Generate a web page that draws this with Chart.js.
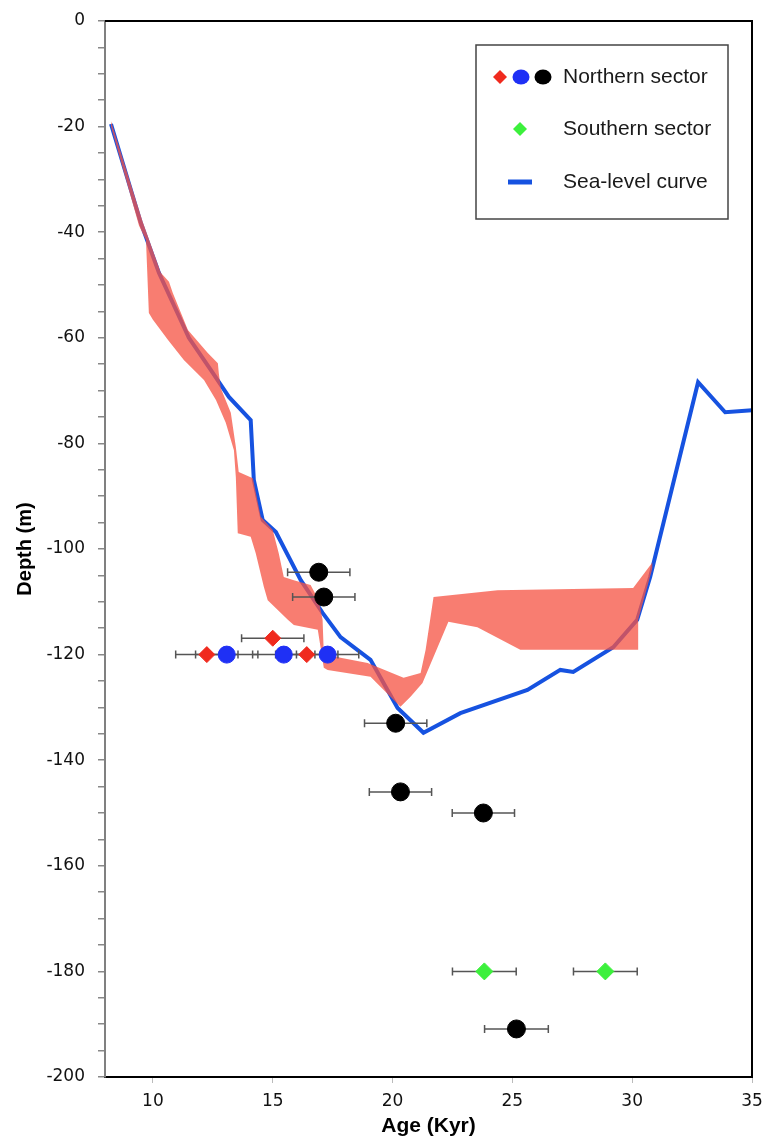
<!DOCTYPE html>
<html>
<head>
<meta charset="utf-8">
<script src="https://cdn.jsdelivr.net/npm/chart.js@4.4.1/dist/chart.umd.min.js"></script>
<style>
    html, body { margin: 0; padding: 0; background: #fff; }
    #wrap { width: 768px; height: 1137px; position: relative; }
</style>
</head>
<body>
<div id="wrap"><canvas id="depthChart"></canvas></div>
<script>
// ── Data (age in kyr, depth in m) ──
const seaAge   = [8.25, 9.5, 10.25, 11.5, 12.42, 13.17, 14.08, 14.21, 14.58, 15.13, 16.17, 17.08, 17.83, 19.08, 20.21, 21.29, 22.83, 25.63, 27.0, 27.54, 29.21, 30.21, 30.75, 32.75, 33.88, 35.0];
const seaDepth = [-19.5, -38.3, -47.7, -60.0, -66.1, -71.2, -75.6, -86.9, -94.5, -96.8, -105.9, -112.1, -116.7, -121.0, -130.1, -134.8, -131.1, -126.7, -122.9, -123.3, -118.6, -113.4, -105.3, -68.4, -74.1, -73.7];

// envelope: shallow (upper) and deep (lower) edges
const bandTopAge   = [8.25, 9.58, 10.33, 10.67, 10.83, 11.46, 12.29, 12.71, 12.75, 12.83, 13.25, 13.46, 13.58, 14.17, 14.5, 15.0, 15.25, 15.46, 15.88, 16.58, 16.92, 17.08, 17.13, 17.83, 18.96, 20.46, 21.17, 21.38, 21.71, 24.38, 30.04, 30.85];
const bandTopDepth = [-19.0, -38.1, -47.7, -49.4, -51.5, -58.5, -62.9, -64.8, -66.7, -69.5, -74.2, -80.7, -85.4, -86.6, -93.9, -96.4, -100.8, -105.3, -105.9, -106.8, -109.7, -113.4, -119.7, -120.6, -121.6, -124.4, -123.5, -119.1, -109.1, -107.8, -107.4, -102.5];
const bandLowAge   = [8.25, 9.42, 9.71, 9.83, 10.0, 10.63, 11.29, 12.13, 12.63, 13.04, 13.38, 13.46, 13.54, 14.08, 14.29, 14.63, 14.79, 15.63, 15.88, 16.88, 17.13, 17.29, 19.08, 20.33, 20.75, 21.25, 22.33, 23.54, 25.33, 30.25, 30.25, 30.85];
const bandLowDepth = [-20.0, -38.8, -41.5, -55.3, -56.6, -60.4, -64.2, -68.0, -71.8, -76.1, -81.3, -86.4, -97.0, -97.7, -100.8, -107.2, -109.7, -113.4, -114.4, -115.3, -122.5, -122.9, -124.2, -129.9, -128.0, -125.4, -113.8, -114.8, -119.1, -119.1, -113.4, -103.5];

const redAge   = [12.25, 16.42, 15.0];
const redDepth = [-120, -120, -116.9];
const redErr   = [1.3, 1.3, 1.3];

const blueAge   = [13.08, 15.46, 17.29];
const blueDepth = [-120, -120, -120];
const blueErr   = [1.3, 1.3, 1.3];

const blackAge   = [16.92, 17.13, 20.13, 20.33, 23.79, 25.17];
const blackDepth = [-104.4, -109.1, -133.0, -146.0, -150.0, -190.9];
const blackErr   = [1.3, 1.3, 1.3, 1.3, 1.3, 1.33];

const greenAge   = [23.83, 28.88];
const greenDepth = [-180, -180];
const greenErr   = [1.33, 1.33];

const xTicks = [10, 15, 20, 25, 30, 35];
const yLabelStep = 20;

const toXY = (xs, ys) => xs.map((x, i) => ({ x: x, y: ys[i] }));

// ── Plugins ──
// horizontal error bars, drawn just after the envelope so markers sit on top
const errorBars = {
    id: 'errorBars',
    afterDatasetDraw(chart, args) {
        if (args.index !== 2) return;
        const { ctx, scales: { x, y } } = chart;
        ctx.save();
        ctx.strokeStyle = '#555';
        ctx.lineWidth = 1.5;
        chart.data.datasets.forEach(ds => {
            if (!ds.errX) return;
            ds.data.forEach((p, i) => {
                const x0 = x.getPixelForValue(p.x - ds.errX[i]);
                const x1 = x.getPixelForValue(p.x + ds.errX[i]);
                const py = y.getPixelForValue(p.y);
                ctx.beginPath();
                ctx.moveTo(x0, py); ctx.lineTo(x1, py);
                ctx.moveTo(x0, py - 4); ctx.lineTo(x0, py + 4);
                ctx.moveTo(x1, py - 4); ctx.lineTo(x1, py + 4);
                ctx.stroke();
            });
        });
        ctx.restore();
    }
};

const frameAndLegend = {
    id: 'frameAndLegend',
    afterDraw(chart) {
        const { ctx, chartArea: a } = chart;
        ctx.save();
        // top + right frame
        ctx.strokeStyle = '#000';
        ctx.lineWidth = 2;
        ctx.beginPath();
        ctx.moveTo(a.left, a.top); ctx.lineTo(a.right, a.top); ctx.lineTo(a.right, a.bottom);
        ctx.stroke();

        // legend box
        const bx = a.right - 276, by = a.top + 24, bw = 252, bh = 174;
        ctx.fillStyle = '#fff';
        ctx.fillRect(bx, by, bw, bh);
        ctx.strokeStyle = '#444';
        ctx.lineWidth = 1.5;
        ctx.strokeRect(bx, by, bw, bh);

        const diamond = (cx, cy, r, color) => {
            ctx.fillStyle = color;
            ctx.beginPath();
            ctx.moveTo(cx - r, cy); ctx.lineTo(cx, cy - r); ctx.lineTo(cx + r, cy); ctx.lineTo(cx, cy + r);
            ctx.closePath(); ctx.fill();
        };
        const dot = (cx, cy, r, color) => {
            ctx.fillStyle = color;
            ctx.beginPath(); ctx.ellipse(cx, cy, r + 1, r, 0, 0, Math.PI * 2); ctx.fill();
        };

        const r1 = by + 32, r2 = by + 84, r3 = by + 137;
        diamond(bx + 24, r1, 7, '#f02a1e');
        dot(bx + 45, r1, 7.5, '#1f30f5');
        dot(bx + 67, r1, 7.5, '#000');
        diamond(bx + 44, r2, 7, '#3cf03c');
        ctx.strokeStyle = '#1652e0';
        ctx.lineWidth = 5;
        ctx.beginPath(); ctx.moveTo(bx + 32, r3); ctx.lineTo(bx + 56, r3); ctx.stroke();

        ctx.fillStyle = '#1a1a1a';
        ctx.font = '21px "Liberation Sans", Arial, sans-serif';
        ctx.textBaseline = 'middle';
        ctx.fillText('Northern sector', bx + 87, r1);
        ctx.fillText('Southern sector', bx + 87, r2);
        ctx.fillText('Sea-level curve', bx + 87, r3);
        ctx.restore();
    }
};

// ── Build Chart ──
const pointSet = (xs, ys, errs, color, style, radius) => ({
    data: toXY(xs, ys),
    errX: errs,
    showLine: false,
    pointStyle: style,
    pointRadius: radius,
    pointHoverRadius: radius,
    pointBackgroundColor: color,
    pointBorderColor: color,
    pointBorderWidth: 1,
    order: 1
});

const ctx = document.getElementById('depthChart').getContext('2d');
const depthChart = new Chart(ctx, {
    type: 'line',
    data: {
        datasets: [
            {
                label: 'Sea-level curve',
                data: toXY(seaAge, seaDepth),
                borderColor: '#1652e0',
                borderWidth: 4,
                pointRadius: 0,
                tension: 0,
                fill: false,
                order: 3
            },
            {
                label: 'envelope top',
                data: toXY(bandTopAge, bandTopDepth),
                borderColor: 'transparent',
                borderWidth: 0,
                pointRadius: 0,
                fill: false,
                order: 2
            },
            {
                label: 'envelope bottom',
                data: toXY(bandLowAge, bandLowDepth),
                borderColor: 'transparent',
                borderWidth: 0,
                pointRadius: 0,
                backgroundColor: 'rgba(246, 84, 68, 0.76)',
                fill: '-1',
                order: 2
            },
            pointSet(redAge, redDepth, redErr, '#f02a1e', 'rectRot', 8),
            pointSet(blueAge, blueDepth, blueErr, '#1f30f5', 'circle', 8.5),
            pointSet(blackAge, blackDepth, blackErr, '#000', 'circle', 9),
            pointSet(greenAge, greenDepth, greenErr, '#3cf03c', 'rectRot', 8.5)
        ]
    },
    options: {
        responsive: true,
        maintainAspectRatio: false,
        animation: false,
        layout: { padding: { top: 21, right: 16, left: 0, bottom: 0 } },
        plugins: {
            legend: { display: false },
            tooltip: { enabled: false }
        },
        scales: {
            x: {
                type: 'linear',
                min: 8,
                max: 35,
                afterBuildTicks: scale => { scale.ticks = xTicks.map(v => ({ value: v })); },
                afterFit: scale => {
                    scale.height = 60;
                    scale.paddingLeft = 0;
                    scale.paddingRight = 0;
                },
                ticks: {
                    font: { family: 'DejaVu Sans', size: 17 },
                    color: '#111',
                    padding: 8,
                    maxRotation: 0
                },
                grid: { drawOnChartArea: false, color: '#bbb', tickLength: 6 },
                border: { color: '#000', width: 2 },
                title: {
                    display: true,
                    text: 'Age (Kyr)',
                    color: '#000',
                    font: { family: 'Liberation Sans', size: 21, weight: 'bold', lineHeight: 1 },
                    padding: { top: 0, bottom: 0 }
                }
            },
            y: {
                type: 'linear',
                min: -200,
                max: 0,
                afterFit: scale => {
                    scale.width = 105;
                    scale.paddingTop = 0;
                    scale.paddingBottom = 0;
                },
                ticks: {
                    stepSize: 5,
                    autoSkip: false,
                    font: { family: 'DejaVu Sans', size: 17 },
                    color: '#111',
                    padding: 13,
                    callback: v => (v % yLabelStep === 0 ? v : '')
                },
                grid: { drawOnChartArea: false, color: '#888', lineWidth: 1.5, tickLength: 7 },
                border: { color: '#808080', width: 2 },
                title: {
                    display: true,
                    text: 'Depth (m)',
                    color: '#000',
                    font: { family: 'Liberation Sans', size: 20, weight: 'bold', lineHeight: 1 },
                    padding: { top: 15, bottom: 0 }
                }
            }
        }
    },
    plugins: [errorBars, frameAndLegend]
});
</script>
</body>
</html>
